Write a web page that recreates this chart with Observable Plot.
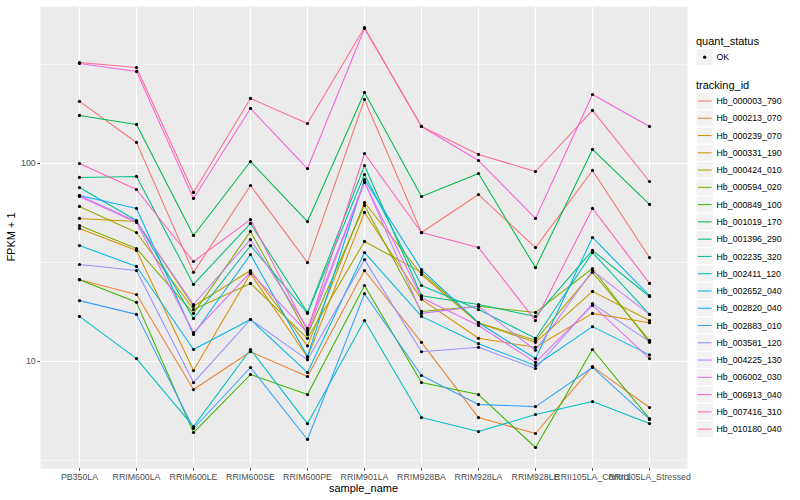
<!DOCTYPE html>
<html><head><meta charset="utf-8">
<script src="https://cdn.jsdelivr.net/npm/d3@7"></script>
<script src="https://cdn.jsdelivr.net/npm/@observablehq/plot@0.6"></script>
<style>
body{margin:0;background:#fff;}
#chart{position:relative;width:800px;height:500px;}
</style>
</head><body><div id="chart"></div>
<script>
// ---- data (FPKM + 1) ----
const samples = ["PB350LA","RRIM600LA","RRIM600LE","RRIM600SE","RRIM600PE","RRIM901LA","RRIM928BA","RRIM928LA","RRIM928LE","RRII105LA_Control","RRII105LA_Stressed"];
const trackingIds = ["Hb_000003_790","Hb_000213_070","Hb_000239_070","Hb_000331_190","Hb_000424_010","Hb_000594_020","Hb_000849_100","Hb_001019_170","Hb_001396_290","Hb_002235_320","Hb_002411_120","Hb_002652_040","Hb_002820_040","Hb_002883_010","Hb_003581_120","Hb_004225_130","Hb_006002_030","Hb_006913_040","Hb_007416_310","Hb_010180_040"];
const palette = ["#F8766D","#EA8331","#D89000","#C09B00","#A3A500","#7CAE00","#39B600","#00BB4E","#00BF7D","#00C1A3","#00BFC4","#00BAE0","#00B0F6","#35A2FF","#9590FF","#C77CFF","#E76BF3","#FA62DB","#FF62BC","#FF6C91"];
const yTicks = [10, 100];

const hb_000003_790 = [205.7,127.7,28.2,77.4,31.6,210.6,44.8,69.7,37.6,92.2,33.5];
const hb_000213_070 = [25.9,21.8,7.22,11.2,8.4,28.8,12.5,5.21,4.33,9.43,5.86];
const hb_000239_070 = [47.0,36.4,9.0,27.8,10.5,56.6,20.6,13.1,11.8,17.5,15.7];
const hb_000331_190 = [52.8,50.9,19.0,28.8,12.0,63.5,27.5,15.6,12.5,22.6,16.1];
const hb_000424_010 = [60.7,44.8,18.3,24.8,13.1,40.4,28.2,15.7,12.8,28.2,12.8];
const hb_000594_020 = [48.6,37.2,17.5,45.4,13.7,61.4,17.9,19.0,17.7,29.5,12.5];
const hb_000849_100 = [25.9,19.9,4.38,8.6,6.81,24.2,7.83,6.81,3.68,11.5,5.15];
const hb_001019_170 = [174.8,157.4,43.3,102.3,50.9,228.4,68.1,89.0,29.8,117.7,62.1];
const hb_001396_290 = [85.0,86.0,24.5,49.8,17.7,97.7,21.5,19.4,16.9,36.4,21.3];
const hb_002235_320 = [75.6,51.5,16.5,38.5,17.5,88.0,24.2,18.3,13.1,35.5,17.3];
const hb_002411_120 = [16.9,10.35,4.69,11.5,4.86,16.1,5.21,4.43,5.40,6.28,4.86];
const hb_002652_040 = [38.5,30.2,11.5,16.3,8.8,35.5,16.9,12.3,9.55,15.0,10.8];
const hb_002820_040 = [68.9,59.3,13.7,34.7,10.6,83.0,29.1,15.7,10.35,42.3,21.5];
const hb_002883_010 = [20.3,17.3,4.59,9.33,4.04,22.0,8.5,6.07,5.92,9.33,5.10];
const hb_003581_120 = [30.9,28.8,7.83,16.3,10.2,32.7,11.2,11.8,9.22,19.6,12.6];
const hb_004225_130 = [68.9,50.9,19.4,41.3,14.7,81.1,17.5,19.0,11.4,28.8,17.3];
const hb_006002_030 = [68.1,50.4,14.0,28.2,14.0,80.2,21.0,15.2,9.9,19.2,10.35];
const hb_006913_040 = [320,291.5,66.6,189.6,94.3,480.6,153.8,103.5,52.8,223,153.8];
const hb_007416_310 = [100,73.9,32.0,52.1,14.3,112.3,44.8,37.6,16.1,59.3,24.8];
const hb_010180_040 = [323.6,305,71.4,213,159.2,486,153.8,111.1,91.1,185.3,81.1];

const seriesValues = [hb_000003_790,hb_000213_070,hb_000239_070,hb_000331_190,hb_000424_010,hb_000594_020,hb_000849_100,hb_001019_170,hb_001396_290,hb_002235_320,hb_002411_120,hb_002652_040,hb_002820_040,hb_002883_010,hb_003581_120,hb_004225_130,hb_006002_030,hb_006913_040,hb_007416_310,hb_010180_040];

const rows = [];
trackingIds.forEach((id, i) => samples.forEach((s, j) => rows.push({id, sample: s, value: seriesValues[i][j]})));

// ggplot-like 5% expansion in log space
const [lo, hi] = d3.extent(rows, d => Math.log10(d.value));
const pad = (hi - lo) * 0.05;
const yDomain = [Math.pow(10, lo - pad), Math.pow(10, hi + pad)];
const minor = [Math.pow(10, 0.5), Math.pow(10, 1.5), Math.pow(10, 2.5)];

const W = 800, H = 500, ML = 40, MR = 113, MT = 6, MB = 32;
const font = "'Liberation Sans', Arial, sans-serif";

const plot = Plot.plot({
  width: W, height: H,
  marginLeft: ML, marginRight: MR, marginTop: MT, marginBottom: MB,
  style: {fontFamily: font, background: "#fff", overflow: "visible"},
  x: {type: "point", domain: samples, padding: 0.6},
  y: {type: "log", domain: yDomain},
  color: {domain: trackingIds, range: palette},
  marks: [
    Plot.frame({fill: "#EBEBEB", stroke: null}),
    Plot.gridY(minor, {stroke: "#fff", strokeOpacity: 1, strokeWidth: 0.55}),
    Plot.gridY(yTicks, {stroke: "#fff", strokeOpacity: 1, strokeWidth: 1.1}),
    Plot.gridX(samples, {stroke: "#fff", strokeOpacity: 1, strokeWidth: 1.1}),
    Plot.line(rows, {x: "sample", y: "value", z: "id", stroke: "id", strokeWidth: 1.05}),
    Plot.dot(rows, {x: "sample", y: "value", r: 1.6, fill: "#000", stroke: null}),
    Plot.axisY(yTicks, {tickFormat: d => String(d), tickSize: 2.75, tickPadding: 2, fontSize: 8.8, color: "#4D4D4D", label: null}),
    Plot.axisX(samples, {tickSize: 2.75, tickPadding: 2, fontSize: 8.8, color: "#4D4D4D", label: null})
  ]
});
document.getElementById("chart").appendChild(plot);

// axis titles and legend
const svg = d3.select(plot);
svg.append("text").attr("x", (ML + W - MR) / 2).attr("y", 492).attr("text-anchor", "middle")
  .attr("font-size", 11).attr("font-family", font).attr("fill", "#000").text("sample_name");
svg.append("text").attr("transform", `translate(15,${(MT + H - MB) / 2}) rotate(-90)`).attr("text-anchor", "middle")
  .attr("font-size", 11).attr("font-family", font).attr("fill", "#000").text("FPKM + 1");

const lx = 696, kw = 17.3;
const lg = svg.append("g").attr("font-family", font).attr("text-anchor", "start").attr("fill", "#000");
lg.append("text").attr("x", lx).attr("y", 44.5).attr("font-size", 11).text("quant_status");
lg.append("rect").attr("x", lx).attr("y", 48.5).attr("width", kw).attr("height", kw).attr("fill", "#F2F2F2").attr("stroke", "#fff");
lg.append("circle").attr("cx", lx + kw / 2).attr("cy", 57.2).attr("r", 1.6).attr("fill", "#000");
lg.append("text").attr("x", 716.5).attr("y", 57.2).attr("dy", "0.35em").attr("font-size", 8.8).text("OK");
lg.append("text").attr("x", lx).attr("y", 89).attr("font-size", 11).text("tracking_id");
trackingIds.forEach((id, i) => {
  const cy = 101 + i * 17.27;
  lg.append("rect").attr("x", lx).attr("y", cy - kw / 2).attr("width", kw).attr("height", kw).attr("fill", "#F2F2F2").attr("stroke", "#fff");
  lg.append("line").attr("x1", lx + 1.7).attr("x2", lx + kw - 1.7).attr("y1", cy).attr("y2", cy).attr("stroke", palette[i]).attr("stroke-width", 1.05);
  lg.append("text").attr("x", 716.5).attr("y", cy).attr("dy", "0.35em").attr("font-size", 8.8).text(id);
});
</script>
</body></html>
